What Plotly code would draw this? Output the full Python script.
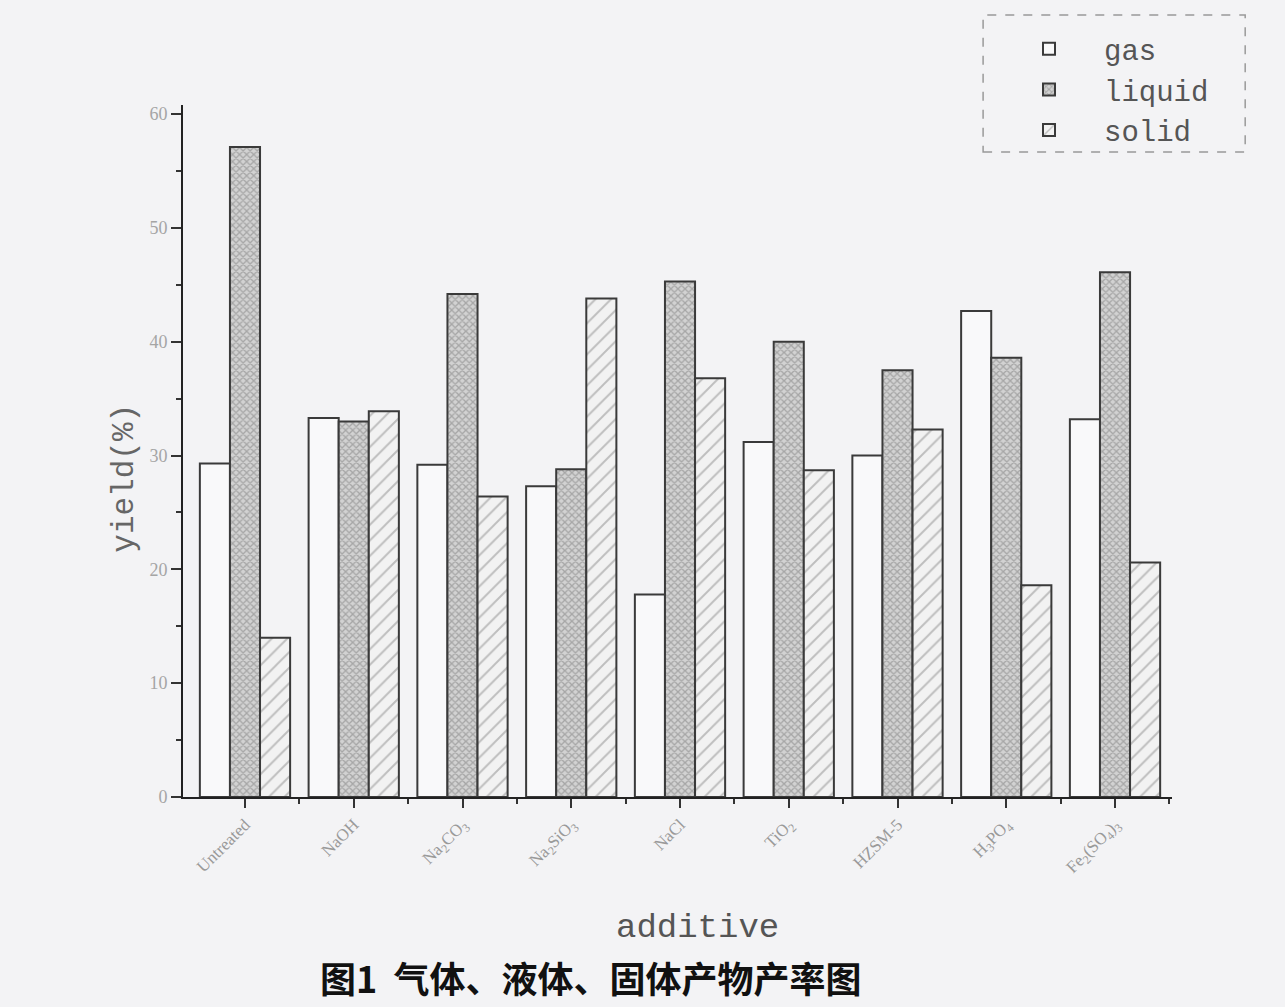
import plotly.graph_objects as go

# additives tested and product yields (%)
additives = ["Untreated", "NaOH", "Na<sub>2</sub>CO<sub>3</sub>", "Na<sub>2</sub>SiO<sub>3</sub>",
             "NaCl", "TiO<sub>2</sub>", "HZSM-5", "H<sub>3</sub>PO<sub>4</sub>",
             "Fe<sub>2</sub>(SO<sub>4</sub>)<sub>3</sub>"]
gas_yield = [29.3, 33.3, 29.2, 27.3, 17.8, 31.2, 30.0, 42.7, 33.2]
liquid_yield = [57.1, 33.0, 44.2, 28.8, 45.3, 40.0, 37.5, 38.6, 46.1]
solid_yield = [14.0, 33.9, 26.4, 43.8, 36.8, 28.7, 32.3, 18.6, 20.6]
y_ticks = [0, 10, 20, 30, 40, 50, 60]

positions = list(range(len(additives)))
BG = "#f3f3f5"
EDGE = "#3a3a3a"

fig = go.Figure()
fig.add_trace(go.Bar(
    name="gas", x=positions, y=gas_yield,
    marker=dict(color="#f9f9fa", line=dict(color=EDGE, width=2)),
))
fig.add_trace(go.Bar(
    name="liquid", x=positions, y=liquid_yield,
    marker=dict(color="#c8c8c8", line=dict(color=EDGE, width=2),
                pattern=dict(shape="x", size=5, solidity=0.45,
                             fgcolor="#7a7a7a", bgcolor="#d2d2d2")),
))
fig.add_trace(go.Bar(
    name="solid", x=positions, y=solid_yield,
    marker=dict(color="#eeeeee", line=dict(color=EDGE, width=2),
                pattern=dict(shape="/", size=11, solidity=0.18,
                             fgcolor="#8a8a8a", bgcolor="#f2f2f2")),
))

fig.update_layout(
    width=1285, height=1007,
    margin=dict(l=183, r=113, t=105, b=210),
    paper_bgcolor=BG, plot_bgcolor=BG,
    barmode="group", bargap=0.17, bargroupgap=0,
    showlegend=True,
    legend=dict(
        x=0.82, y=1.118, xanchor="left", yanchor="top",
        bgcolor="rgba(0,0,0,0)", borderwidth=0,
        font=dict(family="Liberation Mono", size=29, color="#555"),
        itemwidth=100, tracegroupgap=0,
    ),
    xaxis=dict(
        range=[-0.57, 8.524], showgrid=False, zeroline=False,
        tickmode="array", tickvals=positions, ticktext=additives,
        tickangle=-45, ticks="outside", ticklen=9, tickwidth=2, tickcolor="#333",
        tickfont=dict(family="Liberation Serif", size=17, color="#9a9a9a"),
        showline=True, linecolor="#222", linewidth=2,
        minor=dict(tickvals=[p + 0.5 for p in positions], ticks="outside",
                   ticklen=5, tickwidth=1.5, tickcolor="#333"),
    ),
    yaxis=dict(
        range=[0, 60.8], showgrid=False, zeroline=False,
        tickmode="array", tickvals=y_ticks,
        ticks="outside", ticklen=10, tickwidth=2, tickcolor="#333",
        tickfont=dict(family="Liberation Serif", size=18, color="#a5a5a5"),
        showline=True, linecolor="#222", linewidth=2,
        minor=dict(dtick=5, ticks="outside", ticklen=5, tickwidth=2, tickcolor="#333"),
    ),
    shapes=[dict(
        type="rect", xref="paper", yref="paper",
        x0=0.809, x1=1.074, y0=0.932, y1=1.130,
        line=dict(color="#999", width=1.5, dash="dash"),
    )],
    annotations=[
        dict(text="yield(%)", xref="paper", yref="paper", x=-0.0586, y=0.46,
             textangle=-90, showarrow=False, xanchor="center", yanchor="middle",
             font=dict(family="Liberation Mono", size=31, color="#666")),
        dict(text="additive", xref="paper", yref="paper", x=0.52, y=-0.1893,
             showarrow=False, xanchor="center", yanchor="middle",
             font=dict(family="Liberation Mono", size=34, color="#555")),
        dict(text="<b>图1  气体、液体、固体产物产率图</b>", xref="paper", yref="paper",
             x=0.4125, y=-0.260, showarrow=False, xanchor="center", yanchor="middle",
             font=dict(family="Noto Sans CJK SC", size=36, color="#111")),
    ],
)

fig.write_html("out.html")
